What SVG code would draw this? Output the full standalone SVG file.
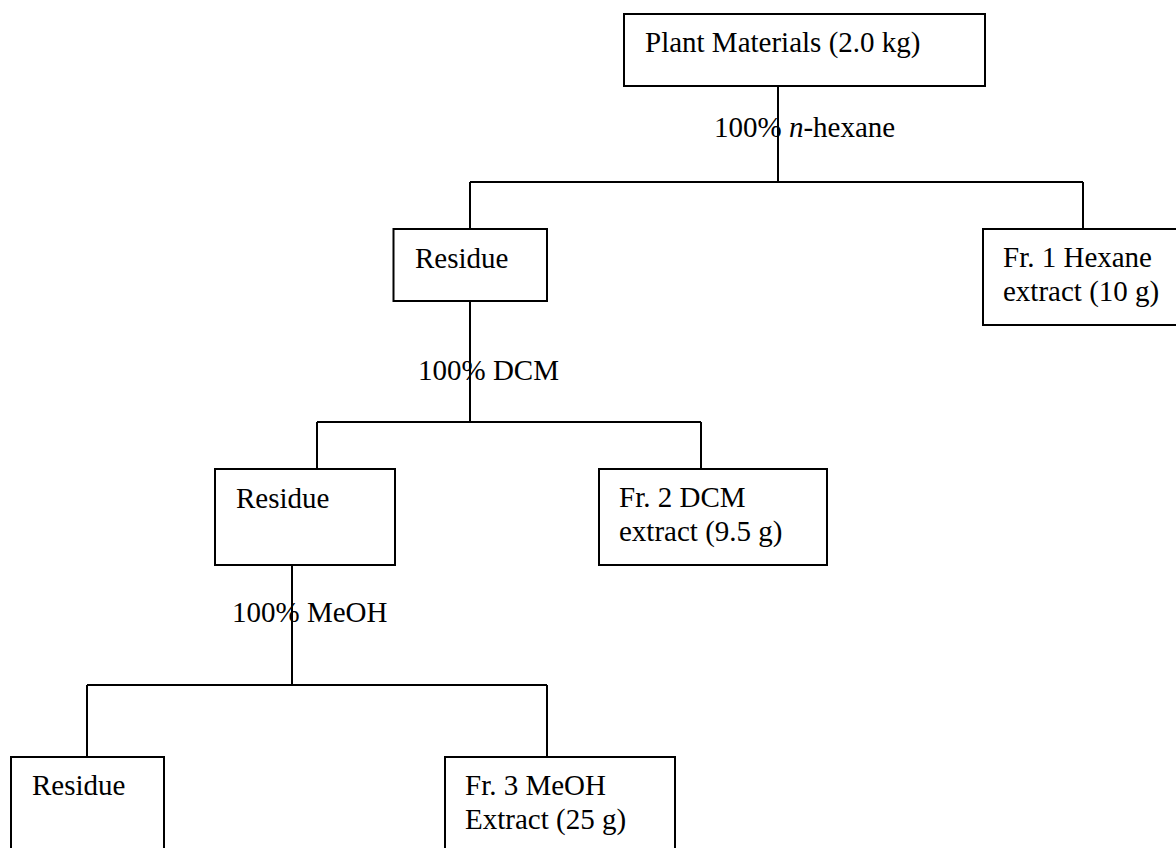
<svg xmlns="http://www.w3.org/2000/svg" width="1176" height="848" viewBox="0 0 1176 848">
<style>
.box{fill:#fff;stroke:#000;stroke-width:2}
.ln{fill:none;stroke:#000;stroke-width:2}
text{font-family:"Liberation Serif","Times New Roman",serif;font-size:29px;fill:#000}
</style>
<rect width="1176" height="848" fill="#fff"/>
<g id="connectors">
<path class="ln" d="M778,86V182M470,182H1083M470,182V229M1083,182V229"/>
<path class="ln" d="M470,301V422M317,422H701M317,422V469M701,422V469"/>
<path class="ln" d="M292,565V685M87,685H547M87,685V757M547,685V757"/>
<text x="714" y="137">100% <tspan font-style="italic">n</tspan>-hexane</text>
<text x="418" y="380">100% DCM</text>
<text x="232" y="622">100% MeOH</text>
</g>
<g id="plant">
<rect class="box" x="624" y="14" width="361" height="72"/>
<text x="645" y="52">Plant Materials (2.0 kg)</text>
</g>
<g id="residue1">
<rect class="box" x="393.5" y="229" width="153.5" height="72"/>
<text x="415" y="268">Residue</text>
</g>
<g id="fr1">
<rect class="box" x="983" y="229" width="200" height="96"/>
<text x="1003" y="267">Fr. 1 Hexane</text>
<text x="1003" y="301">extract (10 g)</text>
</g>
<g id="residue2">
<rect class="box" x="215" y="469" width="180" height="96"/>
<text x="236" y="508">Residue</text>
</g>
<g id="fr2">
<rect class="box" x="599" y="469" width="228" height="96"/>
<text x="619" y="507">Fr. 2 DCM</text>
<text x="619" y="541">extract (9.5 g)</text>
</g>
<g id="residue3">
<rect class="box" x="11" y="757" width="153" height="120"/>
<text x="32" y="795">Residue</text>
</g>
<g id="fr3">
<rect class="box" x="445" y="757" width="230" height="120"/>
<text x="465" y="795">Fr. 3 MeOH</text>
<text x="465" y="829">Extract (25 g)</text>
</g>
</svg>
